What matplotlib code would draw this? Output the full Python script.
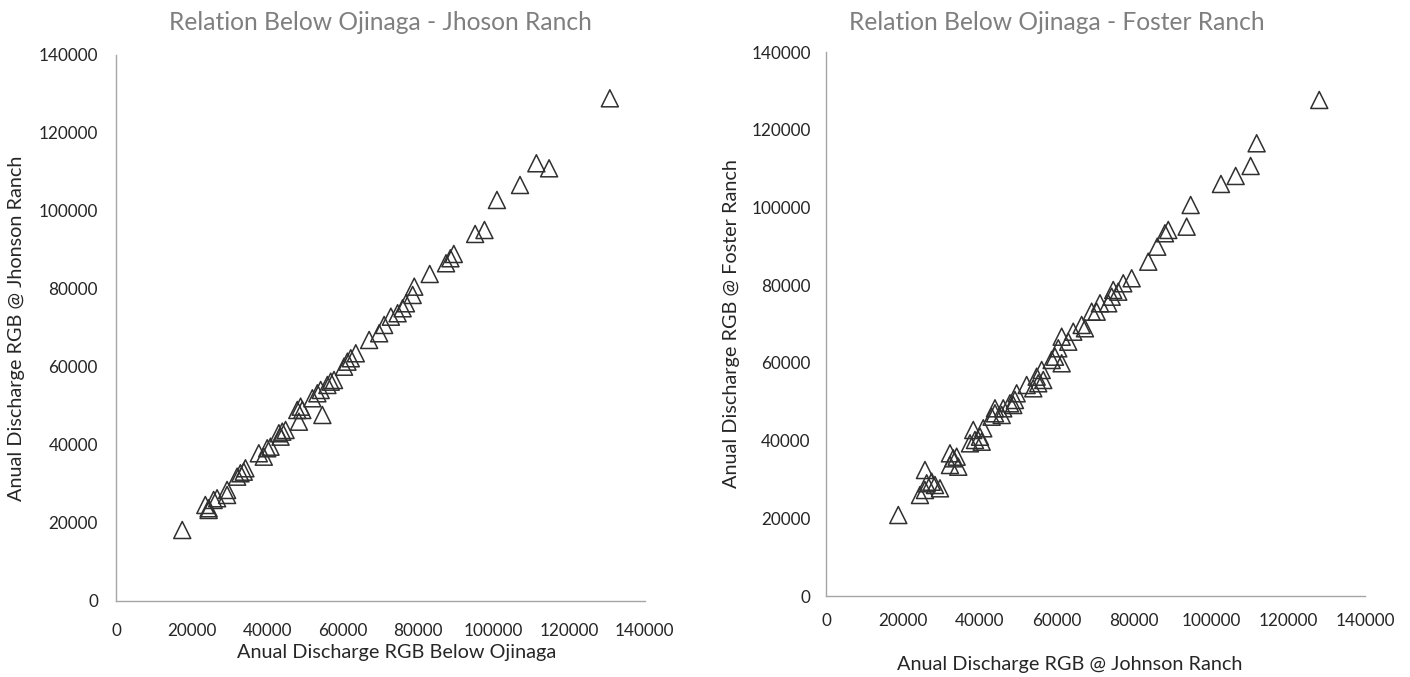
import matplotlib
matplotlib.use("Agg")
import matplotlib.pyplot as plt
from matplotlib.ticker import FuncFormatter

# Below Ojinaga vs Johnson Ranch (left)
ojinaga = [17530, 23640, 24510, 24510, 25840, 26750, 29400, 29400, 32060, 32930,
           33810, 34260, 37800, 39120, 40030, 40900, 43110, 44010, 44890, 43560,
           47990, 48870, 48420, 49320, 54630, 51980, 53310, 54180, 55960, 56840,
           57710, 60370, 61270, 62150, 63480, 67010, 69670, 70990, 72770, 74550,
           75880, 76760, 78540, 78960, 83050, 87380, 88530, 89430, 95080, 97550,
           100850, 106960, 111290, 114660, 130750]
johnson_l = [18200, 24610, 23330, 23770, 25900, 26330, 28460, 27180, 31870, 32740,
             33150, 34020, 37870, 37000, 39150, 39560, 43000, 43410, 43840, 42130,
             48970, 49820, 45970, 48970, 47690, 51970, 53250, 54100, 55380, 56230,
             56660, 60070, 61360, 62230, 63510, 66920, 68640, 70770, 72890, 73770,
             75050, 76330, 78460, 80590, 83840, 86590, 87870, 88970, 94100, 95120,
             102820, 106660, 112230, 110940, 128890]

# Johnson Ranch vs Foster Ranch (right)
johnson_r = [18780, 24410, 25710, 26150, 25710, 27450, 28310, 29610, 32200, 33060,
             32200, 33940, 34360, 37400, 38250, 38700, 39990, 40440, 40850, 43030,
             43890, 43890, 45630, 46040, 47780, 49080, 49520, 48640, 52120, 53840,
             54720, 55130, 56020, 56430, 58610, 59470, 61210, 60330, 61210, 62920,
             64220, 66400, 67260, 69000, 70300, 71160, 73310, 74200, 74610, 75910,
             77210, 79390, 83700, 86040, 88040, 88900, 93670, 94710, 102580, 106400,
             110290, 111850, 128110]
foster = [20850, 26000, 27280, 29010, 32430, 29420, 28570, 27720, 33720, 35440,
          36730, 35860, 33280, 39300, 42730, 40150, 41000, 39720, 43170, 46150,
          47030, 48310, 46590, 48310, 49600, 50450, 52170, 49160, 54310, 53460,
          56450, 54750, 58170, 55600, 60750, 61600, 59900, 63760, 66740, 65460,
          68030, 69760, 68910, 73180, 73180, 75340, 75340, 77040, 78760, 78330,
          80490, 81780, 86050, 89910, 93360, 94210, 95060, 100640, 106050, 108110,
          110680, 116520, 127670]

ticks = [0, 20000, 40000, 60000, 80000, 100000, 120000, 140000]

plt.rcParams['font.family'] = ['Lato', 'DejaVu Sans']

fig = plt.figure(figsize=(14.1, 6.77), dpi=100)
ax1 = fig.add_axes([0.0823, 0.1123, 0.375, 0.8065])
ax2 = fig.add_axes([0.5858, 0.1196, 0.3823, 0.8035])

def style(ax, xlabel, ylabel, xpad, ypad):
    ax.set_xlim(0, 140000)
    ax.set_ylim(0, 140000)
    ax.set_xticks(ticks)
    ax.set_yticks(ticks)
    fmt = FuncFormatter(lambda v, p: "%d" % v)
    ax.xaxis.set_major_formatter(fmt)
    ax.yaxis.set_major_formatter(fmt)
    for s in ['top', 'right']:
        ax.spines[s].set_visible(False)
    for s in ['left', 'bottom']:
        ax.spines[s].set_color('#a6a6a6')
        ax.spines[s].set_linewidth(1.0)
    ax.tick_params(length=0, labelsize=12.3, colors='#262626')
    ax.tick_params(axis='x', pad=xpad)
    ax.tick_params(axis='y', pad=ypad)
    ax.set_xlabel(xlabel, fontsize=14.3, color='#262626')
    ax.set_ylabel(ylabel, fontsize=14.3, color='#262626')

ax1.scatter(ojinaga, johnson_l, marker='^', s=150, facecolors='none',
            edgecolors='#303030', linewidths=1.1, clip_on=False)
ax2.scatter(johnson_r, foster, marker='^', s=150, facecolors='none',
            edgecolors='#303030', linewidths=1.1, clip_on=False)

style(ax1, "Anual Discharge RGB Below Ojinaga",
      "Anual Discharge RGB @ Jhonson Ranch", 16, 13)
style(ax2, "Anual Discharge RGB @ Johnson Ranch",
      "Anual Discharge RGB @ Foster Ranch", 12, 11)
ax1.xaxis.set_label_coords(0.530, -0.079)
ax2.xaxis.set_label_coords(0.453, -0.110)
ax1.yaxis.set_label_coords(-0.173, 0.5)
ax2.yaxis.set_label_coords(-0.160, 0.5)

fig.text(380 / 1410, 1 - 22 / 677, "Relation Below Ojinaga - Jhoson Ranch",
         fontsize=17.7, color='#7f7f7f', ha='center', va='center')
fig.text(1057 / 1410, 1 - 22 / 677, "Relation Below Ojinaga - Foster Ranch",
         fontsize=17.7, color='#7f7f7f', ha='center', va='center')

plt.savefig("out.png", dpi=100)
